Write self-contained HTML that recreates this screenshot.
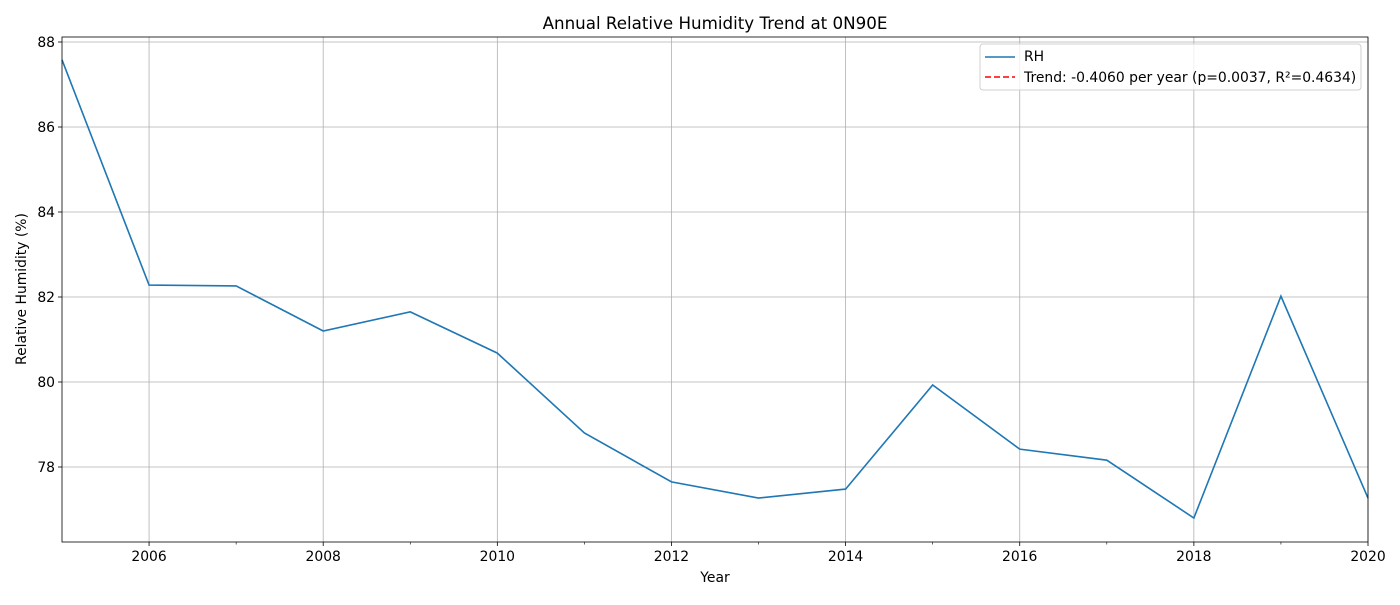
<!DOCTYPE html>
<html><head><meta charset="utf-8">
<style>
body{margin:0;background:#fff;font-family:"Liberation Sans","DejaVu Sans",sans-serif;}
svg text{font-family:"DejaVu Sans","Liberation Sans",sans-serif;}
</style></head>
<body>
<svg id="chart" width="1400" height="600" xmlns="http://www.w3.org/2000/svg"></svg>
<script>
const years=[2005,2006,2007,2008,2009,2010,2011,2012,2013,2014,2015,2016,2017,2018,2019,2020];
const rhValues=[87.58,82.28,82.26,81.2,81.65,80.68,78.8,77.65,77.27,77.48,79.93,78.42,78.16,76.8,82.02,77.27];
const xTicks=[2006,2008,2010,2012,2014,2016,2018,2020];
const xMinor=[2007,2009,2011,2013,2015,2017,2019];
const yTicks=[78,80,82,84,86,88];

const L=62,R=1368,T=37,B=542;
const X=v=>L+(v-2005)/15*(R-L);
const Y=v=>467-(v-78)*42.5;
const svg=document.getElementById('chart');
const NS='http://www.w3.org/2000/svg';
function mk(tag,attrs,parent){const e=document.createElementNS(NS,tag);for(const k in attrs)e.setAttribute(k,attrs[k]);(parent||svg).appendChild(e);return e;}
const FS=13.9;

const grid=mk('g',{});


xTicks.forEach(t=>{
  mk('line',{x1:X(t),x2:X(t),y1:T,y2:B,stroke:'#b0b0b0','stroke-width':0.8},grid);
  mk('line',{x1:X(t),x2:X(t),y1:B,y2:B+4,stroke:'#000','stroke-width':0.8});
  const tx=mk('text',{x:X(t),y:B+19,'text-anchor':'middle','font-size':FS});
  tx.textContent=t;
  
  
});
xMinor.forEach(t=>{mk('line',{x1:X(t),x2:X(t),y1:B,y2:B+2.5,stroke:'#000','stroke-width':0.6});});
yTicks.forEach(t=>{
  mk('line',{x1:L,x2:R,y1:Y(t),y2:Y(t),stroke:'#b0b0b0','stroke-width':0.8},grid);
  mk('line',{x1:L-4,x2:L,y1:Y(t),y2:Y(t),stroke:'#000','stroke-width':0.8});
  const tx=mk('text',{x:L-7,y:Y(t)+5,'text-anchor':'end','font-size':FS});
  tx.textContent=t;
  
  
});

const line=mk('polyline',{points:years.map((y,i)=>X(y)+','+Y(rhValues[i])).join(' '),fill:'none',stroke:'#1f77b4','stroke-width':1.6});



const frame=mk('rect',{x:L,y:T,width:R-L,height:B-T,fill:'none',stroke:'#000','stroke-width':0.8});



const title=mk('text',{x:(L+R)/2,y:29,'text-anchor':'middle','font-size':16.7});
title.textContent='Annual Relative Humidity Trend at 0N90E';



const xt=mk('text',{x:(L+R)/2,y:582,'text-anchor':'middle','font-size':FS});
xt.textContent='Year';



const yt=mk('text',{x:0,y:0,'text-anchor':'middle','font-size':FS,transform:'translate(26,289) rotate(-90)'});
yt.textContent='Relative Humidity (%)';



const lg=mk('g',{});


mk('rect',{x:980,y:44,width:381,height:46,rx:3,fill:'#fff','fill-opacity':0.8,stroke:'#d0d0d0'},lg);
mk('line',{x1:985,x2:1015,y1:57,y2:57,stroke:'#1f77b4','stroke-width':1.6},lg);
const l1=mk('text',{x:1024,y:61,'font-size':FS},lg);
l1.textContent='RH';


mk('line',{x1:985,x2:1015,y1:77,y2:77,stroke:'red','stroke-width':1.6,'stroke-dasharray':'6,3'},lg);
const l2=mk('text',{x:1024,y:82,'font-size':FS},lg);
l2.textContent='Trend: -0.4060 per year (p=0.0037, R²=0.4634)';


</script>
</body></html>
